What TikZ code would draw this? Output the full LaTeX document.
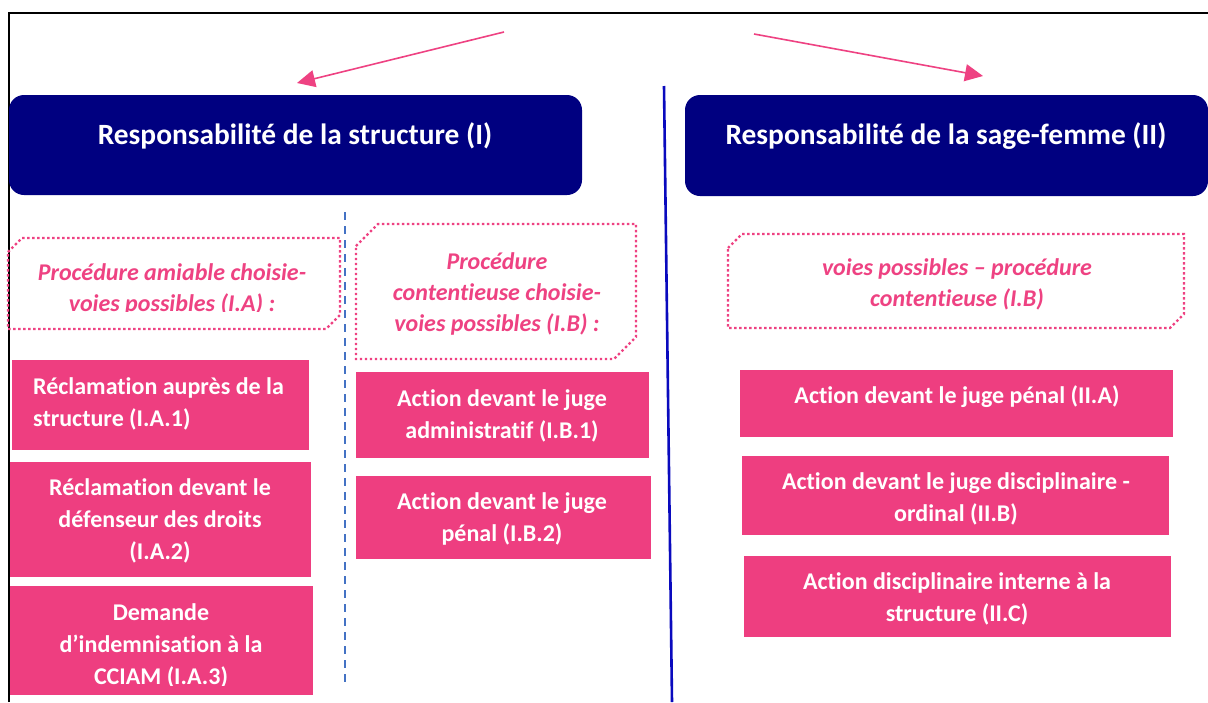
\documentclass[tikz,border=0pt]{standalone}
\usepackage{fontspec}
\setmainfont{Carlito}[Ligatures=NoCommon]
\usetikzlibrary{arrows.meta}
\definecolor{navyhead}{RGB}{0,0,128}
\definecolor{rosefill}{RGB}{238,62,128}
\definecolor{rosedot}{RGB}{238,66,130}
\definecolor{splitblue}{RGB}{10,10,190}
\definecolor{dashblue}{RGB}{68,114,196}
\begin{document}
\begin{tikzpicture}[x=1pt,y=-1pt,
  headbox/.style={fill=navyhead, rounded corners=15pt, inner sep=0pt},
  headtext/.style={text=white, font=\bfseries\fontsize{29.4}{35}\selectfont, inner sep=0pt},
  rosebox/.style={fill=rosefill, inner sep=0pt},
  rosetext/.style={text=white, font=\bfseries\fontsize{24}{32}\selectfont, align=center, inner sep=0pt},
  choicetext/.style={text=rosedot, font=\bfseries\itshape\fontsize{24}{31}\selectfont, align=center, inner sep=0pt},
  dotframe/.style={draw=rosedot, line width=2.4pt, dash pattern=on 2.4pt off 2.6pt},
  pointer/.style={draw=rosedot, line width=1.6pt, -{Triangle[length=18pt,width=17pt]}}
]
\useasboundingbox (0,0) rectangle (1208,702);

% frame lines
\coordinate (frameTL) at (9,13);
\coordinate (frameTR) at (1208,13);
\coordinate (frameBL) at (9,702);
\draw[line width=2.8pt] (frameBL) -- (frameTL) -- (frameTR);

% pointers towards the two headings
\coordinate (srcL) at (504,32);
\coordinate (tipL) at (297,83);
\coordinate (srcR) at (754,34);
\coordinate (tipR) at (983,76);
\draw[pointer] (srcL) -- (tipL);
\draw[pointer] (srcR) -- (tipR);

% separators
\coordinate (splitTop) at (664,86);
\coordinate (splitBot) at (672,702);
\draw[splitblue, line width=2.6pt] (splitTop) -- (splitBot);
\coordinate (dashTop) at (345,212);
\coordinate (dashBot) at (345,686);
\draw[dashblue, line width=1.8pt, dash pattern=on 8pt off 6pt] (dashTop) -- (dashBot);

% headings
\node[headbox, minimum width=573pt, minimum height=100pt] (structure) at (295.5,145) {};
\node[headtext] (structureT) at (295,136) {Responsabilité de la structure (I)};
\node[headbox, minimum width=523pt, minimum height=101pt] (sagefemme) at (946.5,145.5) {};
\node[headtext] (sagefemmeT) at (946,136) {Responsabilité de la sage-femme (II)};

% dotted frames of the three procedures
\draw[dotframe] (8,252) -- (22,238) -- (340,238) -- (340,315) -- (326,329) -- (8,329) -- cycle;
\begin{scope}
  \clip (8,238) rectangle (340,311);
  \node[choicetext] (ia) at (172,289) {Procédure amiable choisie-\\voies possibles (I.A) :};
\end{scope}
\draw[dotframe] (356,246) -- (378,224) -- (636,224) -- (636,337) -- (614,359) -- (356,359) -- cycle;
\node[choicetext] (ib) at (497,294) {Procédure\\contentieuse choisie-\\voies possibles (I.B) :};
\draw[dotframe] (728,248) -- (742,234) -- (1184,234) -- (1184,314) -- (1170,328) -- (728,328) -- cycle;
\node[choicetext] (iib) at (957,284) {voies possibles – procédure\\contentieuse (I.B)};

% actions, column I.A
\node[rosebox, minimum width=297pt, minimum height=90pt] (a1) at (160.5,405) {};
\node[rosetext, align=left, anchor=west] (a1t) at (33,403.5) {Réclamation auprès de la\\structure (I.A.1)};
\node[rosebox, minimum width=301pt, minimum height=115pt] (a2) at (160.5,519.5) {};
\node[rosetext] (a2t) at (160,521) {Réclamation devant le\\défenseur des droits\\(I.A.2)};
\node[rosebox, minimum width=303pt, minimum height=109pt] (a3) at (161.5,640.5) {};
\begin{scope}
  \clip (10,586) rectangle (313,685);
  \node[rosetext] (a3t) at (161,646) {Demande\\d’indemnisation à la\\CCIAM (I.A.3)};
\end{scope}

% actions, column I.B
\node[rosebox, minimum width=293pt, minimum height=86pt] (b1) at (502.5,415) {};
\node[rosetext] (b1t) at (502,415.5) {Action devant le juge\\administratif (I.B.1)};
\node[rosebox, minimum width=295pt, minimum height=83pt] (b2) at (503.5,517.5) {};
\node[rosetext] (b2t) at (502,519) {Action devant le juge\\pénal (I.B.2)};

% actions, column II
\node[rosebox, minimum width=433pt, minimum height=67pt] (c1) at (956.5,403.5) {};
\node[rosetext] (c1t) at (957,397) {Action devant le juge pénal (II.A)};
\node[rosebox, minimum width=427pt, minimum height=79pt] (c2) at (955.5,495.5) {};
\node[rosetext] (c2t) at (956,498.5) {Action devant le juge disciplinaire -\\ordinal (II.B)};
\node[rosebox, minimum width=427pt, minimum height=81pt] (c3) at (957.5,596.5) {};
\node[rosetext] (c3t) at (957,598.5) {Action disciplinaire interne à la\\structure (II.C)};
\end{tikzpicture}
\end{document}
